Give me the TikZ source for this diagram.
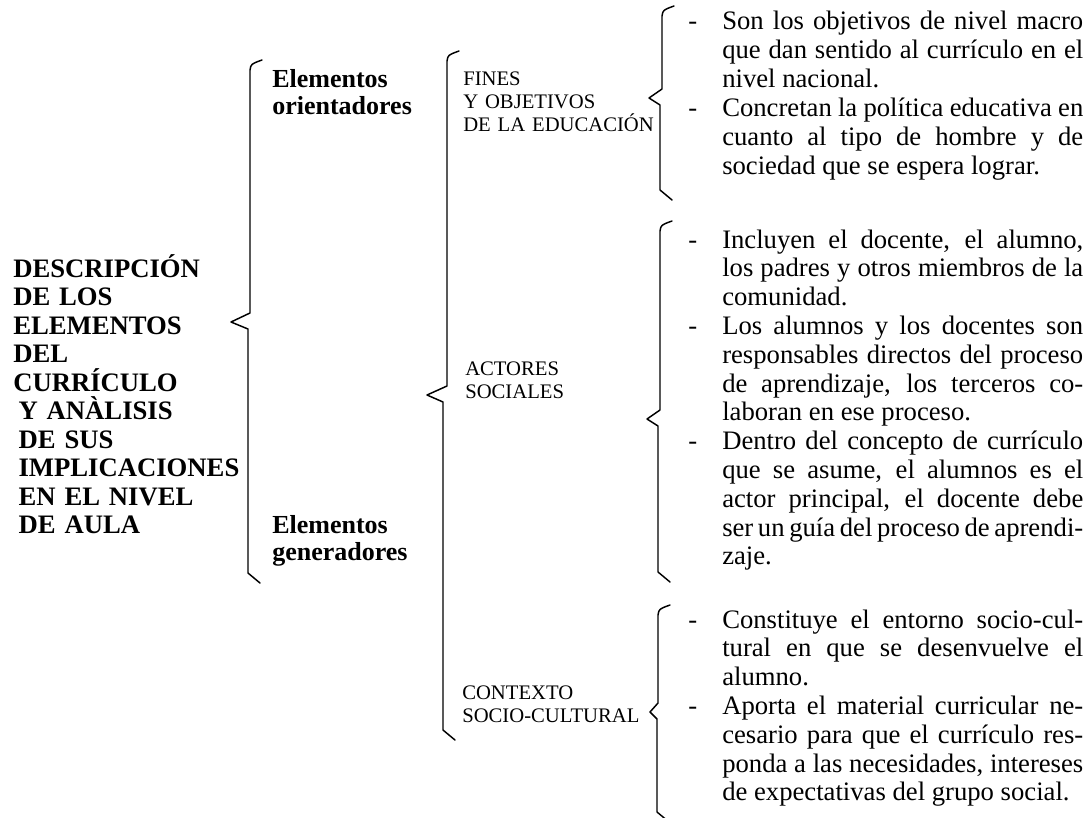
\documentclass[tikz,border=0pt]{standalone}
\usepackage{fontspec}
\setmainfont{Liberation Serif}
\tolerance=10000
\hyphenpenalty=10000
\exhyphenpenalty=10000

\tikzset{
  llave/.style={line width=1.1pt, line join=round, line cap=round},
  titulo/.style={inner sep=0pt, anchor=base west, text width=190pt, align=left,
    font=\fontsize{20}{21.4}\selectfont\bfseries},
  elem/.style={inner sep=0pt, anchor=base west, text width=120pt, align=left,
    font=\fontsize{19.5}{20.25}\selectfont\bfseries},
  rotulo/.style={inner sep=0pt, anchor=base west, text width=150pt, align=left,
    font=\fontsize{15.5}{17.5}\selectfont},
  texto/.style={inner sep=0pt, anchor=base west, text width=270.75pt, align=justify,
    font=\fontsize{20}{21.6}\selectfont}
}

% brace: top x, top y, tip x, tip y, bottom x, bottom y
\newcommand{\llave}[6]{%
  \draw[llave] (#1+12,#2-7) .. controls (#1+1,#2-3) .. (#1,#2+3) -- (#1,#4-9)
    -- (#3,#4) -- (#5,#4+7) -- (#5,#6) -- (#5+12,#6+10);}
\newcommand{\guion}{\noindent\llap{-\hspace{18.75pt}}}

\begin{document}
\begin{tikzpicture}[x=0.75pt, y=-0.75pt]
  \useasboundingbox (0,0) rectangle (1091,817);

  % main title
  \node[titulo] (titulo) at (13,277) {DESCRIPCIÓN\\DE LOS\\ELEMENTOS\\DEL\\CURRÍCULO\\
    \hspace*{4pt}Y ANÀLISIS\\\hspace*{4pt}DE SUS\\\hspace*{4pt}IMPLICACIONES\\
    \hspace*{4pt}EN EL NIVEL\\\hspace*{4pt}DE AULA};
  \llave{250}{67}{231}{322}{248}{573}

  % first level
  \node[elem] (orient) at (272,88) {Elementos\\orientadores};
  \node[elem] (gener) at (272,533) {Elementos\\generadores};
  \llave{447}{58}{427}{395}{443}{730}

  % second level
  \node[rotulo] (fines) at (463,85) {FINES\\Y OBJETIVOS\\DE LA EDUCACIÓN};
  \node[rotulo] (actores) at (465,375) {ACTORES\\SOCIALES};
  \node[rotulo] (contexto) at (462,699) {CONTEXTO\\SOCIO-CULTURAL};

  % Fines y objetivos
  \llave{662}{13}{649}{98}{660}{190}
  \node[texto] (tfines) at (722,30) {%
    \guion Son los objetivos de nivel macro\linebreak que dan sentido al currículo en el\linebreak
    nivel nacional.\par
    \guion Concretan la política educativa en\linebreak cuanto al tipo de hombre y de\linebreak
    sociedad que se espera lograr.};

  % Actores sociales
  \llave{660}{228}{647}{419}{658}{572}
  \node[texto] (tactores) at (722,248) {%
    \guion Incluyen el docente, el alumno,\linebreak los padres y otros miembros de la\linebreak
    comunidad.\par
    \guion Los alumnos y los docentes son\linebreak responsables directos del proceso\linebreak
    de aprendizaje, los terceros co-\linebreak laboran en ese proceso.\par
    \guion Dentro del concepto de currículo\linebreak que se asume, el alumnos es el\linebreak
    actor principal, el docente debe\linebreak ser un guía del proceso de aprendi-\linebreak
    zaje.};

  % Contexto socio-cultural
  \llave{658}{612}{650}{712}{657}{812}
  \node[texto] (tcontexto) at (722,628) {%
    \guion Constituye el entorno socio-cul-\linebreak tural en que se desenvuelve el\linebreak
    alumno.\par
    \guion Aporta el material curricular ne-\linebreak cesario para que el currículo res-\linebreak
    ponda a las necesidades, intereses\linebreak de expectativas del grupo social.};

\end{tikzpicture}
\end{document}
